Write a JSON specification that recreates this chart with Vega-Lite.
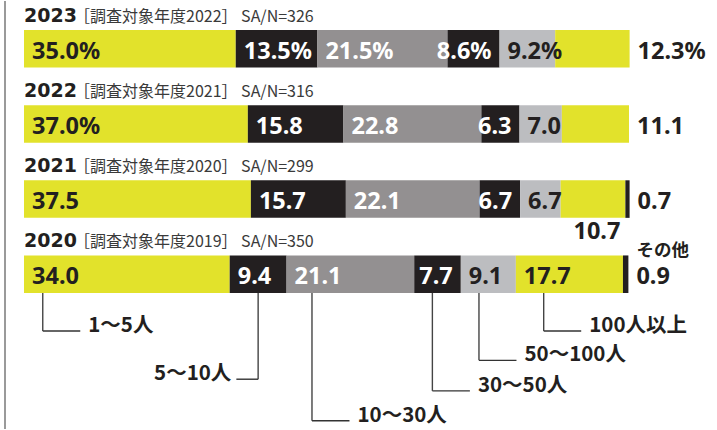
{
  "$schema": "https://vega.github.io/schema/vega-lite/v6.json",
  "width": 717,
  "height": 430,
  "autosize": {"type": "fit", "contains": "padding"},
  "padding": 0,
  "background": "white",
  "config": {"view": {"stroke": null}},
  "datasets": {
    "seg": [
      {"year": 2023, "cat": "1～5人", "value": 35.0, "label": "35.0%"},
      {"year": 2023, "cat": "5～10人", "value": 13.5, "label": "13.5%"},
      {"year": 2023, "cat": "10～30人", "value": 21.5, "label": "21.5%"},
      {"year": 2023, "cat": "30～50人", "value": 8.6, "label": "8.6%"},
      {"year": 2023, "cat": "50～100人", "value": 9.2, "label": "9.2%"},
      {"year": 2023, "cat": "100人以上", "value": 12.3, "label": "12.3%"},
      {"year": 2022, "cat": "1～5人", "value": 37.0, "label": "37.0%"},
      {"year": 2022, "cat": "5～10人", "value": 15.8, "label": "15.8"},
      {"year": 2022, "cat": "10～30人", "value": 22.8, "label": "22.8"},
      {"year": 2022, "cat": "30～50人", "value": 6.3, "label": "6.3"},
      {"year": 2022, "cat": "50～100人", "value": 7.0, "label": "7.0"},
      {"year": 2022, "cat": "100人以上", "value": 11.1, "label": "11.1"},
      {"year": 2021, "cat": "1～5人", "value": 37.5, "label": "37.5"},
      {"year": 2021, "cat": "5～10人", "value": 15.7, "label": "15.7"},
      {"year": 2021, "cat": "10～30人", "value": 22.1, "label": "22.1"},
      {"year": 2021, "cat": "30～50人", "value": 6.7, "label": "6.7"},
      {"year": 2021, "cat": "50～100人", "value": 6.7, "label": "6.7"},
      {"year": 2021, "cat": "100人以上", "value": 10.7, "label": "10.7"},
      {"year": 2021, "cat": "その他", "value": 0.7, "label": "0.7"},
      {"year": 2020, "cat": "1～5人", "value": 34.0, "label": "34.0"},
      {"year": 2020, "cat": "5～10人", "value": 9.4, "label": "9.4"},
      {"year": 2020, "cat": "10～30人", "value": 21.1, "label": "21.1"},
      {"year": 2020, "cat": "30～50人", "value": 7.7, "label": "7.7"},
      {"year": 2020, "cat": "50～100人", "value": 9.1, "label": "9.1"},
      {"year": 2020, "cat": "100人以上", "value": 17.7, "label": "17.7"},
      {"year": 2020, "cat": "その他", "value": 0.9, "label": "0.9"}
    ],
    "yrs": [
      {"year": 2023, "n": 326},
      {"year": 2022, "n": 316},
      {"year": 2021, "n": 299},
      {"year": 2020, "n": 350}
    ]
  },
  "layer": [
    {
      "data": {"values": [{}]},
      "mark": {"type": "rule", "color": "#9a9a9a", "strokeWidth": 2},
      "encoding": {
        "x": {"datum": -3.14, "type": "quantitative", "scale": {"domain": [-3.967, 114.545], "nice": false, "zero": false}, "axis": null}
      }
    },
    {
      "data": {"name": "yrs"},
      "transform": [
        {"calculate": "2023 - datum.year", "as": "row"},
        {"calculate": "'［調査対象年度' + (datum.year - 1) + '］ SA/N=' + datum.n", "as": "sub"}
      ],
      "layer": [
        {
          "mark": {"type": "text", "align": "left", "baseline": "alphabetic", "dy": -27, "font": "DejaVu Sans", "fontWeight": "bold", "fontSize": 19, "color": "#231f20"},
          "encoding": {
            "x": {"datum": 0, "type": "quantitative", "scale": {"domain": [-3.967, 114.545], "nice": false, "zero": false}, "axis": null},
            "y": {"field": "row", "type": "quantitative", "scale": {"domain": [-0.6358, 5.0596], "nice": false, "zero": false, "reverse": true}, "axis": null},
            "text": {"field": "year", "type": "nominal"}
          }
        },
        {
          "mark": {"type": "text", "align": "left", "baseline": "alphabetic", "dy": -27, "dx": 50, "font": "Noto Sans CJK JP", "fontSize": 16, "color": "#3a3a3a"},
          "encoding": {
            "x": {"datum": 0, "type": "quantitative", "scale": {"domain": [-3.967, 114.545], "nice": false, "zero": false}, "axis": null},
            "y": {"field": "row", "type": "quantitative", "scale": {"domain": [-0.6358, 5.0596], "nice": false, "zero": false, "reverse": true}, "axis": null},
            "text": {"field": "sub", "type": "nominal"}
          }
        }
      ]
    },
    {
      "data": {"name": "seg"},
      "transform": [
        {"calculate": "indexof(['1～5人','5～10人','10～30人','30～50人','50～100人','100人以上','その他'], datum.cat)", "as": "ord"},
        {"stack": "value", "groupby": ["year"], "sort": [{"field": "ord", "order": "ascending"}], "as": ["x0", "x1"]},
        {"calculate": "2023 - datum.year", "as": "row"},
        {"calculate": "datum.row - 0.25", "as": "r0"},
        {"calculate": "datum.row + 0.25", "as": "r1"}
      ],
      "layer": [
        {
          "mark": {"type": "bar"},
          "encoding": {
            "x": {"field": "x0", "type": "quantitative", "scale": {"domain": [-3.967, 114.545], "nice": false, "zero": false}, "axis": null},
            "x2": {"field": "x1"},
            "y": {"field": "r0", "type": "quantitative", "scale": {"domain": [-0.6358, 5.0596], "nice": false, "zero": false, "reverse": true}, "axis": null},
            "y2": {"field": "r1"},
            "color": {"field": "cat", "type": "nominal", "legend": null,
              "scale": {"domain": ["1～5人","5～10人","10～30人","30～50人","50～100人","100人以上","その他"],
                        "range": ["#e2e22b","#231f20","#939091","#231f20","#bcbdc0","#e2e22b","#231f20"]}}
          }
        },
        {
          "transform": [{"filter": "indexof(['1～5人','5～10人','10～30人','50～100人'], datum.cat) >= 0 || (datum.cat == '100人以上' && datum.year == 2020)"}],
          "mark": {"type": "text", "align": "left", "baseline": "alphabetic", "dx": 8, "dy": 10, "font": "Noto Sans", "fontWeight": "bold", "fontSize": 23.5},
          "encoding": {
            "x": {"field": "x0", "type": "quantitative", "scale": {"domain": [-3.967, 114.545], "nice": false, "zero": false}, "axis": null},
            "y": {"field": "row", "type": "quantitative", "scale": {"domain": [-0.6358, 5.0596], "nice": false, "zero": false, "reverse": true}, "axis": null},
            "text": {"field": "label", "type": "nominal"},
            "color": {"condition": {"test": "indexof(['5～10人','10～30人'], datum.cat) >= 0", "value": "#ffffff"}, "value": "#231f20"}
          }
        },
        {
          "transform": [{"filter": "datum.cat == '30～50人'"}],
          "mark": {"type": "text", "align": "right", "baseline": "alphabetic", "dx": -8, "dy": 10, "font": "Noto Sans", "fontWeight": "bold", "fontSize": 23.5, "color": "#ffffff"},
          "encoding": {
            "x": {"field": "x1", "type": "quantitative", "scale": {"domain": [-3.967, 114.545], "nice": false, "zero": false}, "axis": null},
            "y": {"field": "row", "type": "quantitative", "scale": {"domain": [-0.6358, 5.0596], "nice": false, "zero": false, "reverse": true}, "axis": null},
            "text": {"field": "label", "type": "nominal"}
          }
        },
        {
          "transform": [{"filter": "(datum.cat == '100人以上' && datum.year >= 2022) || datum.cat == 'その他'"}],
          "mark": {"type": "text", "align": "left", "baseline": "alphabetic", "dx": 8, "dy": 10, "font": "Noto Sans", "fontWeight": "bold", "fontSize": 23.5, "color": "#231f20"},
          "encoding": {
            "x": {"field": "x1", "type": "quantitative", "scale": {"domain": [-3.967, 114.545], "nice": false, "zero": false}, "axis": null},
            "y": {"field": "row", "type": "quantitative", "scale": {"domain": [-0.6358, 5.0596], "nice": false, "zero": false, "reverse": true}, "axis": null},
            "text": {"field": "label", "type": "nominal"}
          }
        },
        {
          "transform": [{"filter": "datum.cat == '100人以上' && datum.year == 2021"}],
          "mark": {"type": "text", "align": "right", "baseline": "alphabetic", "dx": -5, "dy": 40, "font": "Noto Sans", "fontWeight": "bold", "fontSize": 23.5, "color": "#231f20"},
          "encoding": {
            "x": {"field": "x1", "type": "quantitative", "scale": {"domain": [-3.967, 114.545], "nice": false, "zero": false}, "axis": null},
            "y": {"field": "row", "type": "quantitative", "scale": {"domain": [-0.6358, 5.0596], "nice": false, "zero": false, "reverse": true}, "axis": null},
            "text": {"field": "label", "type": "nominal"}
          }
        },
        {
          "transform": [{"filter": "datum.cat == 'その他' && datum.year == 2020"}],
          "mark": {"type": "text", "align": "left", "baseline": "alphabetic", "dx": 8, "dy": -18, "font": "Noto Sans CJK JP", "fontWeight": "bold", "fontSize": 17.5, "color": "#231f20"},
          "encoding": {
            "x": {"field": "x1", "type": "quantitative", "scale": {"domain": [-3.967, 114.545], "nice": false, "zero": false}, "axis": null},
            "y": {"field": "row", "type": "quantitative", "scale": {"domain": [-0.6358, 5.0596], "nice": false, "zero": false, "reverse": true}, "axis": null},
            "text": {"field": "cat", "type": "nominal"}
          }
        }
      ]
    },
    {
      "data": {"name": "seg"},
      "transform": [
        {"filter": "datum.year == 2020 && datum.cat != 'その他'"},
        {"calculate": "indexof(['1～5人','5～10人','10～30人','30～50人','50～100人','100人以上'], datum.cat)", "as": "ci"},
        {"calculate": "[3.1, 38.7, 47.6, 67.5, 75.2, 85.9][datum.ci]", "as": "lx"},
        {"calculate": "[3.755, 4.397, 4.95, 4.552, 4.146, 3.755][datum.ci]", "as": "lv"},
        {"calculate": "datum.cat == '5～10人' ? datum.lx - 3.6 : datum.lx + 6.2", "as": "hx"},
        {"calculate": "3.25", "as": "top"}
      ],
      "layer": [
        {
          "mark": {"type": "rule", "color": "#444444", "strokeWidth": 1.4},
          "encoding": {
            "x": {"field": "lx", "type": "quantitative", "scale": {"domain": [-3.967, 114.545], "nice": false, "zero": false}, "axis": null},
            "y": {"field": "top", "type": "quantitative", "scale": {"domain": [-0.6358, 5.0596], "nice": false, "zero": false, "reverse": true}, "axis": null},
            "y2": {"field": "lv"}
          }
        },
        {
          "mark": {"type": "rule", "color": "#333333", "strokeWidth": 1.4},
          "encoding": {
            "x": {"field": "lx", "type": "quantitative", "scale": {"domain": [-3.967, 114.545], "nice": false, "zero": false}, "axis": null},
            "x2": {"field": "hx"},
            "y": {"field": "lv", "type": "quantitative", "scale": {"domain": [-0.6358, 5.0596], "nice": false, "zero": false, "reverse": true}, "axis": null}
          }
        },
        {
          "transform": [{"filter": "datum.cat != '5～10人'"}],
          "mark": {"type": "text", "align": "left", "baseline": "alphabetic", "dx": 8, "dy": 1, "font": "Noto Sans CJK JP", "fontWeight": "bold", "fontSize": 20.5, "color": "#231f20"},
          "encoding": {
            "x": {"field": "hx", "type": "quantitative", "scale": {"domain": [-3.967, 114.545], "nice": false, "zero": false}, "axis": null},
            "y": {"field": "lv", "type": "quantitative", "scale": {"domain": [-0.6358, 5.0596], "nice": false, "zero": false, "reverse": true}, "axis": null},
            "text": {"field": "cat", "type": "nominal"}
          }
        },
        {
          "transform": [{"filter": "datum.cat == '5～10人'"}],
          "mark": {"type": "text", "align": "right", "baseline": "alphabetic", "dx": -5, "dy": 1, "font": "Noto Sans CJK JP", "fontWeight": "bold", "fontSize": 20.5, "color": "#231f20"},
          "encoding": {
            "x": {"field": "hx", "type": "quantitative", "scale": {"domain": [-3.967, 114.545], "nice": false, "zero": false}, "axis": null},
            "y": {"field": "lv", "type": "quantitative", "scale": {"domain": [-0.6358, 5.0596], "nice": false, "zero": false, "reverse": true}, "axis": null},
            "text": {"field": "cat", "type": "nominal"}
          }
        }
      ]
    }
  ]
}
